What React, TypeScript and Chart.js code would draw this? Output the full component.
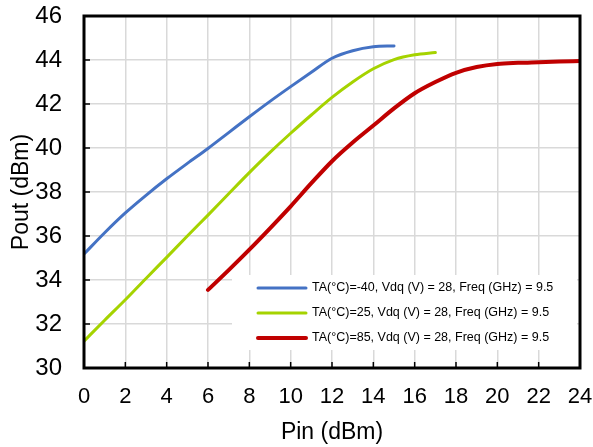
import React, { useEffect, useRef } from "react";
import { Chart, registerables } from "chart.js";

Chart.register(...registerables);

const pinBlue = [0, 1, 2, 3, 4, 5, 6, 7, 8, 9, 10, 11, 12, 13, 14, 15];
const poutBlue = [35.18, 36.15, 37.05, 37.85, 38.6, 39.3, 39.98, 40.7, 41.42, 42.12, 42.79, 43.44, 44.08, 44.42, 44.6, 44.64];

const pinGreen = [0, 1, 2, 3, 4, 5, 6, 7, 8, 9, 10, 11, 12, 13, 14, 15, 16, 17];
const poutGreen = [31.22, 32.17, 33.1, 34.07, 35.03, 36.0, 36.95, 37.92, 38.88, 39.8, 40.67, 41.5, 42.3, 43.0, 43.6, 44.02, 44.24, 44.34];

const pinRed = [6, 7, 8, 9, 10, 11, 12, 13, 14, 15, 16, 17, 18, 19, 20, 21, 22, 23, 24];
const poutRed = [33.55, 34.45, 35.38, 36.35, 37.35, 38.4, 39.4, 40.25, 41.02, 41.8, 42.49, 43.0, 43.42, 43.68, 43.82, 43.87, 43.9, 43.93, 43.95];

const seriesLabels = [
  "TA(°C)=-40, Vdq (V) = 28, Freq (GHz) = 9.5",
  "TA(°C)=25, Vdq (V) = 28, Freq (GHz) = 9.5",
  "TA(°C)=85, Vdq (V) = 28, Freq (GHz) = 9.5",
];
const seriesColors = ["#4472C4", "#A5D300", "#C00000"];
const seriesWidths = [3, 3, 4];

const xTitle = "Pin (dBm)";
const yTitle = "Pout (dBm)";
const xMin = 0, xMax = 24, xStep = 2;
const yMin = 30, yMax = 46, yStep = 2;

const FONT = "'Liberation Sans', Arial, sans-serif";

const framePlugin = {
  id: "frameAndLegend",
  afterDraw(chart: any) {
    const ctx = chart.ctx;
    const a = chart.chartArea;
    const xs = chart.scales.x;
    const ys = chart.scales.y;
    ctx.save();
    ctx.strokeStyle = "#000";
    ctx.lineWidth = 1.5;
    for (let v = xMin; v <= xMax; v += xStep) {
      const px = xs.getPixelForValue(v);
      ctx.beginPath();
      ctx.moveTo(px, a.bottom);
      ctx.lineTo(px, a.bottom - 6);
      ctx.stroke();
    }
    for (let v = yMin; v <= yMax; v += yStep) {
      const py = ys.getPixelForValue(v);
      ctx.beginPath();
      ctx.moveTo(a.left, py);
      ctx.lineTo(a.left + 6, py);
      ctx.stroke();
    }
    const lx = a.left + 148;
    const ly = a.top + 259;
    const lw = a.right - 3 - lx;
    const lh = 75;
    ctx.fillStyle = "#fff";
    ctx.fillRect(lx, ly, lw, lh);
    ctx.font = `12.5px ${FONT}`;
    ctx.textBaseline = "middle";
    ctx.textAlign = "left";
    chart.data.datasets.forEach((ds: any, i: number) => {
      const y = ly + 13 + i * 25;
      ctx.strokeStyle = ds.borderColor;
      ctx.lineWidth = ds.borderWidth;
      ctx.lineCap = "round";
      ctx.beginPath();
      ctx.moveTo(lx + 26, y);
      ctx.lineTo(lx + 74, y);
      ctx.stroke();
      ctx.fillStyle = "#000";
      ctx.fillText(ds.label, lx + 80, y);
    });
    ctx.strokeStyle = "#000";
    ctx.lineWidth = 3;
    ctx.lineCap = "butt";
    ctx.strokeRect(a.left, a.top, a.right - a.left, a.bottom - a.top);
    ctx.restore();
  },
};

export default function App() {
  const ref = useRef<HTMLCanvasElement>(null);
  useEffect(() => {
    if (!ref.current) return;
    const mk = (xs: number[], ys: number[]) => xs.map((x, i) => ({ x, y: ys[i] }));
    const datas = [mk(pinBlue, poutBlue), mk(pinGreen, poutGreen), mk(pinRed, poutRed)];
    const chart = new Chart(ref.current, {
      type: "scatter",
      data: {
        datasets: datas.map((d, i) => ({
          label: seriesLabels[i],
          data: d,
          showLine: true,
          borderColor: seriesColors[i],
          backgroundColor: seriesColors[i],
          borderWidth: seriesWidths[i],
          pointRadius: 0,
          tension: 0.3,
          cubicInterpolationMode: "monotone" as const,
          borderCapStyle: "round" as const,
        })),
      },
      options: {
        animation: false,
        responsive: false,
        maintainAspectRatio: false,
        layout: { padding: { left: 0, top: 16, right: 13, bottom: 0 } },
        plugins: { legend: { display: false }, tooltip: { enabled: false } },
        scales: {
          x: {
            type: "linear",
            min: xMin,
            max: xMax,
            afterFit: (s: any) => { s.height = 79; s.paddingLeft = 0; s.paddingRight = 0; },
            ticks: { stepSize: xStep, color: "#000", font: { family: FONT, size: 22 }, padding: 16 },
            grid: { color: "#d9d9d9", lineWidth: 1.5, drawTicks: false },
            border: { display: false },
            title: { display: true, text: xTitle, color: "#000", font: { family: FONT, size: 23 }, padding: { top: 0, bottom: 1 } },
          },
          y: {
            type: "linear",
            min: yMin,
            max: yMax,
            afterFit: (s: any) => { s.width = 84; s.paddingTop = 0; s.paddingBottom = 0; },
            ticks: { stepSize: yStep, color: "#000", font: { family: FONT, size: 24 }, padding: 22 },
            grid: { color: "#d9d9d9", lineWidth: 1.5, drawTicks: false },
            border: { display: false },
            title: { display: true, text: yTitle, color: "#000", font: { family: FONT, size: 23 }, padding: { top: 8, bottom: 0 } },
          },
        },
      },
      plugins: [framePlugin],
    });
    return () => chart.destroy();
  }, []);
  return (
    <div style={{ position: "fixed", left: 0, top: 0, width: 593, height: 447, background: "#fff" }}>
      <canvas ref={ref} width={593} height={447} style={{ display: "block" }} />
    </div>
  );
}
